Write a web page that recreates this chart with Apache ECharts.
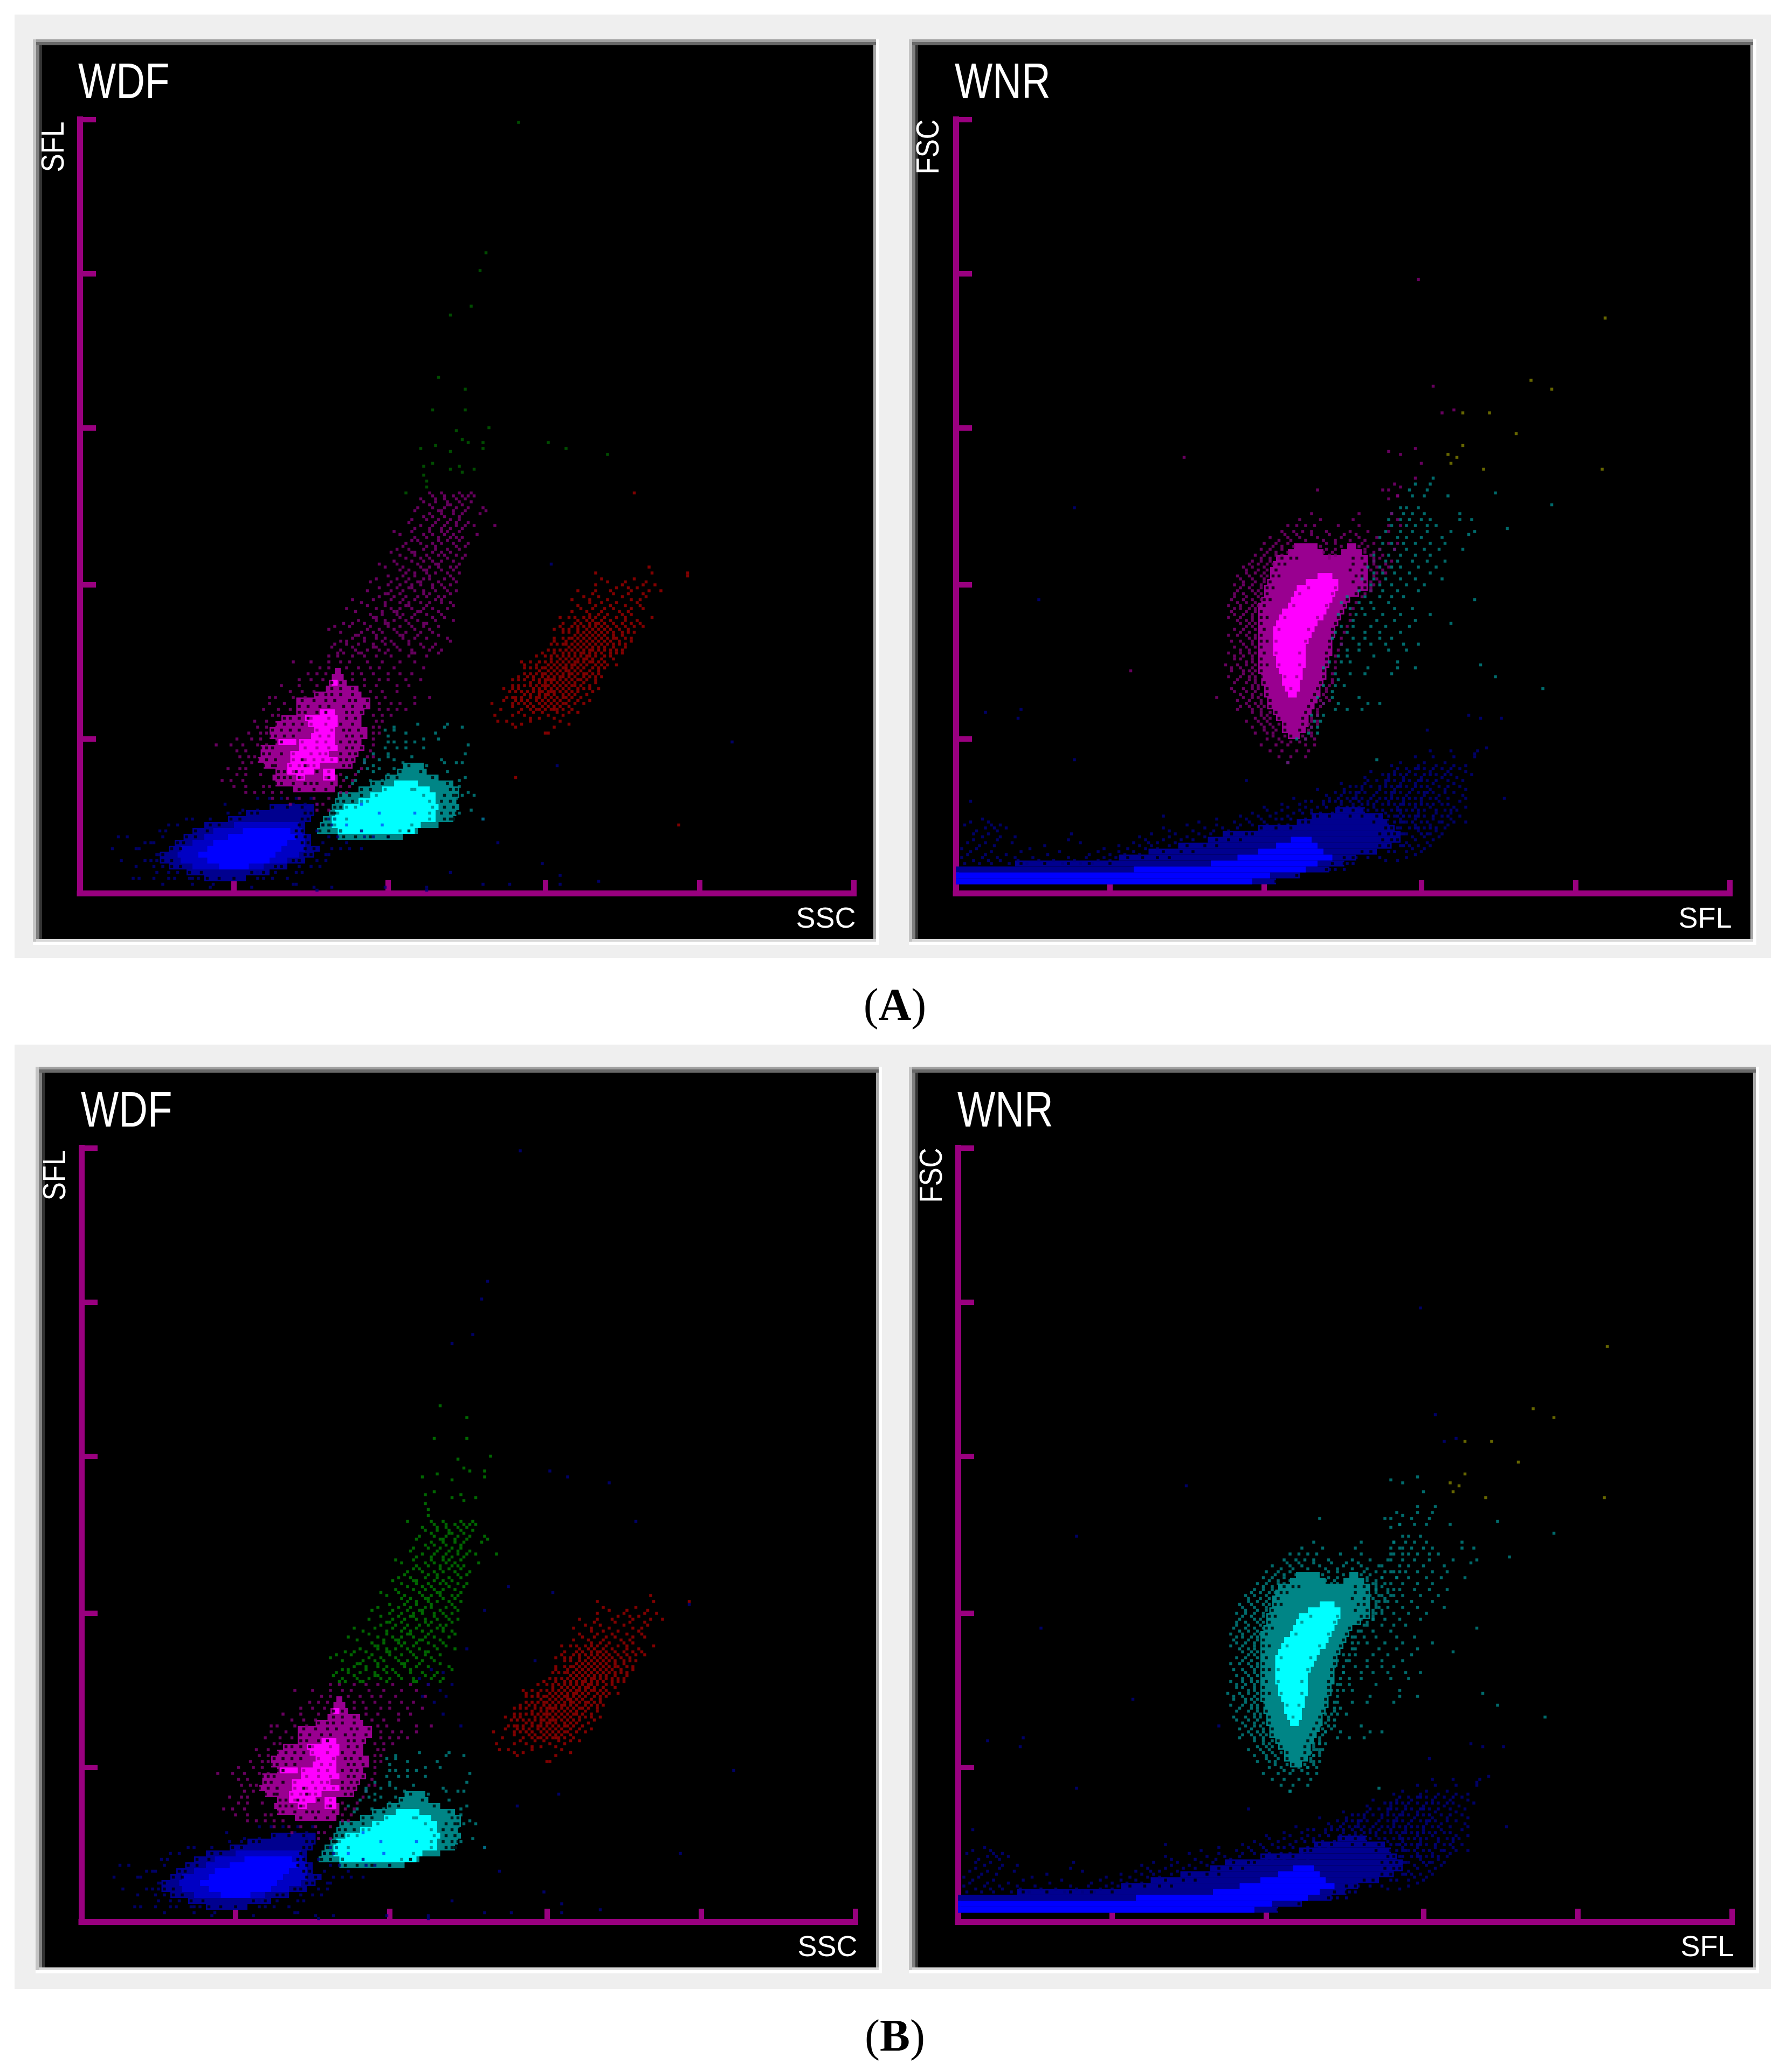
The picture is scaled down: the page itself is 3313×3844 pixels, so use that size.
<!DOCTYPE html>
<html><head><meta charset="utf-8">
<style>html,body{margin:0;padding:0;background:#fff}#c{width:3313px;height:3844px}</style>
<script src="https://cdn.jsdelivr.net/npm/echarts@6/dist/echarts.min.js"></script>
</head><body><div id="c"></div>
<script>
// Axis: instrument channels
const tickValues = [0, 52, 104, 157, 209, 261];

// Solid regions: [y, xStart, xEnd], each row covers two channels in y
const wdfBlueHalo = [[4,42,56],[6,36,64],[8,30,70],[10,27,76],[12,27,79],[14,30,81],[16,32,78],[18,35,78],[20,38,76],[22,42,76],[24,50,78],[26,56,79],[28,64,79]];
const wdfBlueMid = [[8,38,62],[10,34,70],[12,33,74],[14,34,76],[16,38,76],[18,42,76],[20,45,75],[22,52,74]];
const wdfBlueCore = [[8,47,57],[10,43,64],[12,40,66],[14,43,68],[16,45,70],[18,50,73],[20,55,71]];
const wdfCyanHalo = [[18,87,109],[20,80,114],[22,81,121],[24,82,126],[26,84,127],[28,85,128],[30,86,127],[32,87,128],[34,94,128],[36,98,126],[38,103,121],[40,107,117],[42,109,116]];
const wdfCyanCore = [[20,87,113],[22,85,115],[24,85,120],[26,86,120],[28,89,121],[30,94,120],[32,98,120],[34,102,118],[36,106,114]];
const wdfMagHalo = [[34,72,86],[36,66,87],[38,65,87],[40,66,86],[42,62,92],[44,60,93],[46,61,94],[48,61,96],[50,66,95],[52,64,97],[54,64,97],[56,66,95],[58,68,95],[60,73,96],[62,73,98],[64,73,98],[66,79,95],[68,83,94],[70,84,90],[72,85,89],[74,86,88]];
const wdfMagCore = [[38,73,76],[38,82,86],[40,70,79],[40,82,86],[42,70,81],[44,71,87],[46,71,84],[48,74,87],[50,67,73],[50,74,86],[52,78,86],[54,79,86],[56,77,87],[58,76,87],[60,81,86],[70,85,87]];
const wnrBlueHalo = [[3,0,108],[5,0,116],[7,0,126],[9,20,131],[11,55,135],[13,65,142],[15,75,147],[17,85,150],[19,90,150],[21,102,148],[23,115,146],[25,120,144],[27,128,138]];
const wnrBlueCore = [[3,0,100],[5,0,106],[7,60,118],[9,86,122],[11,95,127],[13,102,124],[15,108,122],[17,113,120]];
const wnrHalo = [[52,112,116],[54,110,118],[56,110,119],[58,108,119],[60,107,120],[62,105,121],[64,105,122],[66,104,123],[68,104,123],[70,103,124],[72,103,125],[74,102,125],[76,102,126],[78,102,126],[80,102,127],[82,102,127],[84,102,127],[86,102,128],[88,102,128],[90,102,129],[92,102,130],[94,102,131],[96,102,132],[98,103,133],[100,104,136],[102,104,139],[104,105,139],[106,106,139],[108,106,139],[110,107,139],[112,108,139],[114,112,124],[114,130,137],[116,114,122],[116,132,135]];
const wnrCore = [[66,112,115],[68,111,116],[70,110,116],[72,110,117],[74,109,117],[76,108,118],[78,108,118],[80,107,118],[82,107,118],[84,107,119],[86,107,120],[88,107,121],[90,108,122],[92,109,124],[94,110,125],[96,112,126],[98,113,127],[100,114,128],[102,115,129],[104,118,129],[106,122,127]];

// Gaps inside the solid regions: [y, x, x ...]
const wdfMagHaloGaps = [[35,67,70,74,79,83],[37,66,68,72,76,78,80,85],[39,67,69,71,74,84],[41,64,67,69,73,80,90],[43,62,65,66,76,89,91],[45,60,63,66,75,88,90,92],[47,62,64,68,88,91,93],[49,61,63,65,90,92,95],[51,66,68,88,91,93],[53,64,66,69,72,90,92,95],[55,65,68,71,74,89,91,94],[57,66,69,72,75,88,92],[59,69,71,74,77,90,93],[61,74,76,80,83,90,92,95],[63,74,77,81,84,89,92,96],[65,75,79,83,86,91,93,97],[67,80,83,85,88,92],[69,85,88,92],[71,85,88]];
const wdfMagCoreGaps = [[39,75,83],[41,72,75,84],[43,71,74,77,79],[45,72,76,79,82,85],[47,72,78,81,83],[49,76,80,84],[51,75,80,83],[53,81,84],[55,80,85],[57,78,83],[59,78,84]];
const wdfCyanHaloGaps = [[19,89,93,98,104],[21,81,84,88,111],[23,82,84,122,124],[25,83,123,125,126],[27,85,86,122,125,127],[29,86,88,123,126],[31,87,89,92,122,125],[33,88,91,95,123,126,127],[35,95,98,125,127],[37,99,102,124],[39,104,107,119],[41,108,115],[43,111]];
const wdfCyanCoreGaps = [[21,88,108],[23,86,112],[25,86,90,118],[27,87,118],[29,90,93,119],[31,95,97,118],[33,100,116],[35,103,112,113]];
const wdfCyanBlueCells = [[101,27],[113,27],[90,23],[102,23],[95,30]];
const wdfBlueGaps = [[5,43,47,52],[7,37,41,58,62],[9,31,34,66,68],[11,28,31,72,74],[13,28,76,78],[15,31,34,76,79],[17,33,35,75,77],[19,36,39,73,76],[21,39,43,73,75],[23,44,47,74],[25,51,54,75,77],[27,58,60,76,78],[29,65,70,75]];
const wnrHaloGaps = [[53,113],[55,111,116],[57,111,117],[59,109,117],[61,108,118],[63,106,119],[65,106,120],[67,105,121],[69,105,122],[71,104,123],[73,103,124],[75,103,124],[77,103,105,125],[79,103,125],[81,104,125],[83,103,126],[85,103,105,126],[87,103,127],[89,104,127],[91,103,128],[93,103,105,129],[95,103,130],[97,104,131],[99,104,106,132],[101,105,135,137],[103,105,107,136,138],[105,106,134,138],[107,107,109,135,137],[109,108,133,137],[111,109,111,134,138],[113,110,113,115,134,137]];
const wnrCoreGaps = [[69,113],[73,111,115],[77,109,116],[81,108,116],[85,108,118],[89,109,119],[93,111,122],[97,114,125],[101,116,127],[103,119,128]];
const wnrBlueGaps = [[4,108],[6,115,120,123],[8,125,129,130],[10,127,131],[12,131,134],[14,137,140,143],[16,143,146,148],[18,144,147,149],[20,143,146,148],[22,145,147],[24,141,146],[26,133,137,142,145],[28,130,134,138],[10,22,30,38,45,52],[12,58,63,68,72],[14,70,76,80],[16,78,84,88],[18,88,92,96],[20,93,98,100],[22,103,108,113],[24,117,119],[26,122,126]];

// Speckle: [y, x, x, x ...]
const wdfBlueFringe = [[2,44,58,79,103,117],[3,28,38,45,72,73],[5,18,20,25,30,32,37,38,40,60,62,65,70],[7,26,30,33,60,66,73,75],[9,19,25,28,74,78,81],[11,14,22,24,26,80,83],[13,26,27,83,84],[15,11,19,20,85,88,91,95],[17,22,24,25,82,90],[19,13,16,28,84,87,96,99,104],[21,27,29,80,88,95],[23,30,33,82,85],[25,36,38,44,84,86],[27,50,54],[28,55,60,76],[30,49,72,76,80],[32,60,64,68,73,78]];
const wdfMagFringe = [[28,80,84],[30,71,80,82],[32,65,70,74,79,84],[34,56,59,62,65,68,88,90],[36,52,56,62,64,88,91],[38,48,51,55,89,92],[40,53,56,61,88,93],[42,50,54,56,95],[44,55,58,96],[46,54,57,59,97,99],[48,53,56,98],[50,46,51,55,60,63,99],[52,53,58,61,99],[54,57,61,63,99,101],[56,60,63,99,101],[58,59,63,100,102],[60,65,67,99,102,105],[62,62,67,71,101,104,107,110],[64,64,69,101,105,108,113],[66,64,66,72,76,100,103,113,118],[68,71,75,79,98,102,107],[70,68,74,80,96,100,107,111],[72,74,78,82,92,96,101,104,110,115],[74,77,80,83,92,95,99,104,108,112],[76,81,84,90,94,98,101,106,116],[78,72,78,84,88,91,97,102,108,113],[80,84,87,92,96,100,105,111,117]];
const wdfPlumeMid = [[82,88,93,97,101,104,108,112,118,122],[84,86,90,94,99,103,106,111,115,120],[86,92,96,100,103,109,113,117,124],[88,88,95,99,102,107,110,115,119],[90,86,91,98,104,108,112,116,121],[92,94,100,103,106,110,114,120,126],[94,98,102,107,109,113,117,122],[96,90,100,105,108,112,116,119,124],[98,95,103,108,111,115,118,122,125],[100,101,106,110,114,117,121,123],[102,97,105,109,113,116,120,124,127],[104,104,108,112,115,119,122,125],[106,100,107,111,116,118,123,126],[108,110,113,117,120,124,128],[110,103,109,115,118,121,125,127],[112,106,112,116,119,122,126],[114,108,113,117,121,123,127,130],[116,107,111,116,120,124,128],[118,110,115,119,122,126,131],[120,113,117,121,125,127,129],[122,106,112,118,122,124,128],[124,115,119,123,127,130,133,140],[126,112,117,121,125,128],[128,118,122,126,129,135],[130,114,119,123,127,131,136],[132,116,120,124,128,132],[134,119,123,126,129,131,133]];
const wdfPlumeClumps = [[81,87,89,94,95,103,112,113,121],[83,85,92,99,100,107,116,119],[85,88,90,96,102,105,111,125],[87,93,94,100,108,109,114,121],[89,84,97,101,106,113,118],[91,89,92,96,103,104,111,116,117],[93,99,100,108,112,119,123],[95,93,102,106,107,114,115,121],[97,97,103,110,111,117,126],[99,92,99,105,109,113,120,122],[101,103,104,108,116,118,125],[103,101,107,111,112,119,123],[105,98,105,110,114,115,121,127],[107,104,109,113,118,125],[109,108,111,116,117,122,126],[111,101,107,114,120,121,128],[113,110,115,118,124,129],[115,105,112,113,119,122,125],[117,109,117,120,127,130],[119,112,114,121,124,128],[121,108,116,119,123,126,134],[123,113,118,122,125,129],[125,111,120,124,127,131],[127,116,119,123,128],[129,113,121,122,126,130,137],[131,118,124,125,129],[133,115,120,123,127,130],[135,118,122,128,132]];
const wdfRed = [[54,157,158],[56,147,160],[57,146,149,165],[58,141,144,152,162],[59,152,155,160],[60,140,146,150,158,163],[61,148,153,156,161,165,168],[62,142,149,152,154,157,159,163,166],[63,146,151,153,156,158,160,162,165],[64,139,150,152,155,157,159,161,164,167,170],[65,147,151,154,156,158,160,162,165,168],[66,144,149,152,154,157,159,161,163,166,169],[67,150,152,155,157,158,160,163,165,167,171],[68,145,151,153,156,158,160,162,164,166,168,173],[69,148,153,155,157,159,161,163,165,168,170],[70,150,154,156,158,160,162,164,166,169,172],[71,152,155,157,159,161,163,165,167,170,174],[72,146,155,157,158,160,162,164,166,168,171],[73,153,156,158,160,162,163,165,167,170,172,176],[74,156,157,159,161,163,165,166,168,171,173],[75,155,158,160,162,164,165,167,169,172,175],[76,152,157,159,161,163,164,166,168,170,173],[77,158,160,162,164,166,167,169,171,174,178],[78,149,157,161,163,165,167,168,170,172,175],[79,159,162,164,166,168,170,171,173,176,180],[80,161,163,165,167,169,171,172,174,177],[81,163,165,167,169,170,172,174,176,179,183],[82,160,164,166,168,170,172,173,175,177,181],[83,165,167,169,171,173,175,177,180,184],[84,163,166,168,170,172,174,176,178,182],[85,167,169,171,173,175,177,179,186],[86,165,168,170,172,174,176,178,181,184],[87,167,169,171,173,175,177,180,183],[88,170,172,174,176,178,180,187],[89,163,168,171,173,175,177,179,182,185],[90,170,172,174,176,178,181,190],[91,169,172,174,175,177,180,183],[92,168,171,173,176,179,184,188],[93,165,170,174,177,181,193],[94,172,175,178,183,186],[96,169,173,177,180,186,190],[98,172,176,181,188],[100,170,175,183,191],[102,168,174,179,186,192,196],[103,181,185,188],[104,174,183,190,194],[106,176,187],[108,174,193,205],[110,192]];
const wdfRedWide = [[62,155,160,161],[64,146,148,163],[66,146,147,155,164],[68,147,149,155,159],[70,146,148,152,157,167],[72,148,150,153,159,169,174],[74,150,152,154,170,175],[76,150,154,156,175,177],[78,152,155,159,173,177],[80,154,157,159,179],[82,158,162,179,183],[84,159,161,164,180,184],[86,160,163,166,180,186],[88,163,165,168,183,185],[90,162,166,168,184,187],[65,143,149,172],[69,143,146,172,175],[73,148,151,174],[77,150,154,176,181],[81,156,160,181],[85,160,164,182],[89,160,165],[91,163,167,186,189],[93,162,167,172,184],[95,166,171,176,182,185],[97,168,174,179,184,189],[99,166,172,178,186,189],[101,173,180,185,190],[105,178,184,191]];
const wnrFringe = [[44,112],[46,109,113,118],[48,106,110,115,119],[50,103,108,112,118,121],[52,105,109,118,121],[54,101,105,107,120],[56,100,104,107,120],[58,98,102,105,120,122],[60,103,105,122],[62,95,100,103,122],[64,98,101,103,124],[66,97,100,102,125],[68,94,98,101,125],[70,100,102,126],[72,95,99,101,127],[74,97,100,127],[76,93,96,100,128],[78,98,100,128],[80,94,97,100,128],[82,96,99,129],[84,97,100,130],[86,99,101,130],[88,96,99,131],[90,98,100,132],[92,95,98,100,133],[94,94,97,100,133],[96,94,96,99,101,134],[98,95,98,101,135],[100,94,98,102,137],[102,95,100,102,140],[104,94,97,100,103,141],[106,96,100,104,142],[108,98,101,104,142,145],[110,97,100,104,142,146],[112,100,103,106,141,147],[114,101,104,108,110,126,128,140,144],[116,103,106,110,125,128,138,143,148],[118,104,108,112,125,128,137,141,146,149],[120,106,112,116,122,130,136,142],[122,110,114,117,120,125,133,139,146],[124,112,115,118,121,129,136,146,150],[126,116,123,134,149],[128,120,136,147],[134,149],[136,144,146],[138,148]];
const wnrFringeOdd = [[51,110,113,116],[53,107,111,117,120],[55,104,108,119],[57,103,106,109,119,122],[59,101,104,106,120],[61,100,103,106,122],[63,96,99,102,104,123],[65,95,99,103,123,126],[67,96,100,103,124],[69,93,97,100,102,125],[71,94,98,101,127],[73,92,96,99,101],[75,93,97,99,101],[77,91,95,98,101],[79,94,96,100],[81,92,96,99,101],[83,94,98,101],[85,93,96,100],[87,92,95,98,101],[89,94,97,101],[91,96,99,101],[93,92,96,100],[95,93,98,101],[97,92,96,100,102],[99,93,97,100,103],[101,94,97,101,103,138],[103,96,99,103,140],[105,97,101,104,140,143],[107,95,99,103,105,141],[109,98,102,105,140,144],[111,99,102,105,107,141,145],[113,103,106,109,126,141,143],[115,105,108,112,124,127,138,141],[117,107,110,114,123,130,136,139],[119,109,113,118,124,128,133,138],[121,111,115,120,126,131,135]];
const wnrTealScatter = [[52,115,118],[54,119,122],[56,120,122],[58,121,123],[60,120,122,124],[62,128,132,137],[64,124,129,139,143],[66,122,127,136],[68,127],[70,124,128,131],[72,129],[74,128,133,138,147],[76,124,139,149,155],[78,126,130,133,149],[80,129,132,141],[82,132,136,146,152],[84,130,136,140,145,151,156],[86,127,134,138,143,147],[88,128,132,138,143,150],[90,130,134,140,145,153],[92,134,142,148,155],[94,129,135,138,144,150,160],[96,133,137,141,148,154],[98,130,136,140,146],[100,132,138,143,147,151],[102,136,140,144,149,156],[104,140,143,147,152,158],[106,137,141,145,150,155,164],[108,141,144,148,153,160],[110,139,143,147,150,156,162],[112,141,145,149,154,159,165],[114,141,146,150,155,160],[116,143,148,152,158,163],[118,144,147,151,155,160,165],[120,143,149,152,157,164],[122,145,150,154,159,167],[124,147,152,155,159,162],[126,146,150,153,157,160,170,174],[128,147,151,154,158,170],[130,150,152,156],[134,154,158,166],[136,153,159],[138,155,160],[140,161]];
const wnrBlueFringe = [[10,3,8,12,18,24,30,36,42,46],[11,6,11,15,21,28,33,40,48,52,145,149],[12,2,9,14,20,26,38,44,50,54,152],[13,4,10,17,31,45,52,57,62,155],[14,5,12,22,35,48,55,60,152,157],[15,2,7,25,50,58,64,68,154,158],[16,8,13,30,55,62,66,72,153,156,160],[17,4,10,19,42,60,68,74,152,159],[18,6,14,38,64,70,76,80,155,161],[19,9,15,20,62,72,78,84,154,158,163],[20,6,11,66,74,82,86,152,160,164],[21,7,14,72,80,87,92,156,162],[22,10,13,17,70,84,90,95,153,158,165],[23,3,12,15,78,88,96,100,155,160,166],[24,5,11,82,94,99,104,152,157,163,168],[25,9,88,98,103,108,150,155,161,167],[26,96,102,106,112,148,153,158,164,170],[27,100,108,114,145,150,156,162,167],[28,105,110,116,120,142,147,152,158,165,169],[29,104,112,118,122,136,141,149,155,160,168,172],[30,110,116,124,130,134,144,148,153,159,164],[31,118,124,128,133,139,146,151,157,163,170],[32,114,126,132,137,143,149,155,160,166,172],[33,125,130,135,141,147,152,158,163,171],[34,128,133,138,145,150,156,161,168],[35,122,131,137,143,148,154,160,165,172],[36,135,140,147,152,157,163,170],[37,130,138,145,150,155,161,168],[38,142,148,153,159,166,171],[39,138,146,151,157,164,169],[40,144,150,155,162,167,174],[41,140,148,153,160,166,172],[42,152,158,164,170],[43,147,156,162,168,172],[44,150,158,165],[46,155,161,168,175],[48,160,167,176]];
const wnrBlueGrain = [[20,150,151,157,159],[22,149,150,155,156,160,162],[24,148,150,151,154,159,164],[26,146,149,151,155,156,161,166],[28,139,144,149,150,154,156,162,167],[30,137,139,141,146,150,151,155,157,161,166],[32,129,134,135,140,145,147,151,153,157,162],[34,131,135,136,142,147,148,153,158,159,165],[36,133,137,143,145,149,150,155,159,166],[38,139,145,146,151,156,157,162],[40,146,148,152,158,160,165],[42,149,155,156,161,167],[21,104,106,110,114,118],[23,105,109,112,116],[25,110,113,118,122,125],[27,117,120,123,127],[29,125,129,132,134],[31,120,126,130,136,142],[10,128,132,134],[8,126,128,131],[12,135,139,143],[14,141,146,148],[16,146,150,151]];

// Isolated points: [x, y]
const wdfTealScatter = [[106,56],[103,55],[106,55],[104,53],[104,51],[106,51],[110,51],[113,51],[116,52],[121,52],[120,54],[110,54],[114,57],[123,56],[124,57],[129,56],[131,50],[130,47],[103,49],[107,49],[110,49],[116,49],[104,47],[99,47],[112,46],[96,45],[96,44],[101,45],[104,46],[106,45],[109,44],[112,43],[122,45],[123,44],[127,44],[129,44],[99,43],[97,42],[101,42],[99,41],[94,41],[106,42],[117,43],[124,41],[110,41],[104,40],[102,38],[98,38],[90,39],[93,38],[92,37],[96,35],[130,39],[128,38],[128,36],[131,34],[133,33],[129,33],[127,32],[128,27],[132,28],[126,25],[136,25],[123,26]];
const wdfGreenHigh = [[110,135],[117,137],[117,139],[116,141],[116,144],[119,145],[125,143],[128,144],[133,143],[129,142],[115,150],[120,151],[125,149],[129,153],[131,152],[136,152],[136,150],[127,156],[138,157],[119,163],[130,163],[130,170],[121,174]];
const wdfTopOutliers = [[148,260],[137,216],[135,210],[132,198],[125,195],[158,152],[164,150],[178,148]];
const wdfUpperRed = [[187,135]];
const wdfRedOutliers = [[147,39],[202,23],[205,107]];
const wdfBlueOutliers = [[141,17],[156,10],[162,6],[162,3],[175,4],[136,3],[145,3],[125,7],[117,1],[80,1],[85,2],[159,111],[161,43],[220,51],[136,25]];
const wdfBlueNearPlume = [[114,82],[118,85],[122,84],[117,80],[121,78],[125,80],[115,76],[119,74],[123,76],[128,66],[122,70],[130,92],[136,105],[153,88],[144,113]];
const wnrUpperScatter = [[146,149],[150,148],[155,150],[157,145],[155,140],[150,137],[149,134],[146,133],[122,136]];
const wnrFarTeal = [[182,135],[201,131],[186,123],[175,99],[167,91],[177,77],[182,73],[198,69],[142,45],[112,44],[173,121],[175,122],[171,116]];
const wnrYellow = [[219,194],[194,173],[201,170],[171,162],[180,162],[189,155],[171,151],[166,148],[169,147],[167,145],[178,143],[218,143]];
const wnrOutliers = [[156,207],[161,171],[164,162],[168,163],[77,147],[59,75],[88,66]];
const wnrBlueOutliers = [[40,130],[28,99],[10,61],[22,62],[21,59],[40,45],[173,60],[177,59],[184,59],[185,32],[172,24],[159,55],[179,49],[175,47],[98,38],[70,26],[5,31],[39,20],[65,17]];

// Colours
const AXIS='#99007f', BLUE='#0000ff', MBLUE='#0000c4', DBLUE='#00008f', SBLUE='#000080', CYAN='#00ffff', TEAL='#008586', MAG='#ff00ff', DMAG='#990090', SMAG='#7f0075', RED='#a00000', GREEN='#007f00', SGREEN='#005f00', OLIVE='#7f7f00', BLACK='#000000', SPECK='#0050ff';

const ROW=2, CELL=5.5, FULL=261;
const cells = rows => rows.flatMap(r => r.slice(1).map(x => [x, r[0]]));
function spanItem(p, api){
  const y=api.value(0), a=api.coord([api.value(1),y]), b=api.coord([api.value(2),y+ROW]);
  return {type:'rect',shape:{x:a[0],y:b[1],width:b[0]-a[0],height:a[1]-b[1]},style:{fill:api.visual('color')}};
}
const span = (i,data,color)=>({type:'custom',xAxisIndex:i,yAxisIndex:i,data,renderItem:spanItem,itemStyle:{color},silent:true,clip:false,z:2});
const dots = (i,data,color)=>({type:'scatter',xAxisIndex:i,yAxisIndex:i,data,symbol:'rect',symbolSize:CELL,itemStyle:{color},silent:true,z:2});

const panels=[
 {name:'WDF',yn:'SFL',xn:'SSC',black:[78,84,1620,1742],ox:148,oy:1657,tx:145,ty:156,lx:101},
 {name:'WNR',yn:'FSC',xn:'SFL',black:[1703,84,3247,1742],ox:1773,oy:1657,tx:1771,ty:156,lx:1724},
 {name:'WDF',yn:'SFL',xn:'SSC',black:[83,1990,1625,3650],ox:151,oy:3565,tx:150,ty:2064,lx:104},
 {name:'WNR',yn:'FSC',xn:'SFL',black:[1703,1990,3252,3650],ox:1777,oy:3565,tx:1776,ty:2064,lx:1730}
];
const series=[];
function wdf(i,isB){
  series.push(
    dots(i,cells(wdfBlueFringe),SBLUE),dots(i,wdfBlueOutliers,SBLUE),
    dots(i,cells(wdfMagFringe),SMAG),
    dots(i,cells(wdfPlumeMid),isB?GREEN:SMAG),
    dots(i,cells(wdfPlumeClumps),isB?GREEN:SMAG),
    dots(i,wdfGreenHigh,isB?GREEN:SGREEN),
    dots(i,wdfTopOutliers,isB?SBLUE:SGREEN),
    dots(i,wdfUpperRed,isB?SBLUE:RED),
    dots(i,wdfRedOutliers,isB?SBLUE:RED),
    dots(i,cells(wdfRed),RED),dots(i,cells(wdfRedWide),RED),
    dots(i,wdfTealScatter,TEAL),
    span(i,wdfBlueHalo,DBLUE),span(i,wdfBlueMid,MBLUE),span(i,wdfBlueCore,BLUE),dots(i,cells(wdfBlueGaps),BLACK),
    span(i,wdfMagHalo,DMAG),dots(i,cells(wdfMagHaloGaps),BLACK),span(i,wdfMagCore,MAG),dots(i,cells(wdfMagCoreGaps),DMAG),
    span(i,wdfCyanHalo,TEAL),dots(i,cells(wdfCyanHaloGaps),BLACK),span(i,wdfCyanCore,CYAN),dots(i,cells(wdfCyanCoreGaps),TEAL),dots(i,wdfCyanBlueCells,SPECK));
  if(isB) series.push(dots(i,wdfBlueNearPlume,SBLUE));
}
function wnr(i,isB){
  const halo=isB?TEAL:DMAG, core=isB?CYAN:MAG, fringe=isB?TEAL:SMAG;
  series.push(
    dots(i,cells(wnrBlueFringe),SBLUE),dots(i,cells(wnrBlueGrain),DBLUE),dots(i,wnrBlueOutliers,SBLUE),
    span(i,wnrBlueHalo,DBLUE),span(i,wnrBlueCore,BLUE),dots(i,cells(wnrBlueGaps),BLACK),
    dots(i,cells(wnrTealScatter),TEAL),dots(i,wnrFarTeal,TEAL),
    dots(i,cells(wnrFringe),fringe),dots(i,cells(wnrFringeOdd),fringe),dots(i,wnrUpperScatter,fringe),
    dots(i,wnrOutliers,isB?SBLUE:SMAG),dots(i,wnrYellow,OLIVE),
    span(i,wnrHalo,halo),dots(i,cells(wnrHaloGaps),BLACK),span(i,wnrCore,core),dots(i,cells(wnrCoreGaps),halo));
}
wdf(0,false);wnr(1,false);wdf(2,true);wnr(3,true);

const side=FULL*CELL;
const grid=panels.map(p=>({left:p.ox,top:p.oy-side,width:side,height:side,show:false}));
const axisBase=(len,i)=>({type:'value',min:0,max:FULL,gridIndex:i,splitLine:{show:false},axisLabel:{show:false},
  axisLine:{show:true,onZero:false,lineStyle:{color:AXIS,width:11,cap:'square'}},
  axisTick:{show:true,inside:true,length:len,customValues:tickValues,lineStyle:{color:AXIS,width:10}}});
const xAxis=panels.map((p,i)=>axisBase(24,i));
const yAxis=panels.map((p,i)=>axisBase(30,i));

const rect=(x0,y0,x1,y1,fill)=>({type:'rect',z:-10,silent:true,shape:{x:x0,y:y0,width:x1-x0,height:y1-y0},style:{fill}});
const els=[rect(27,27,3285,1777,'#efefef'),rect(27,1938,3285,3690,'#efefef')];
const SANS='"Liberation Sans"';
panels.forEach(p=>{
  const [l,t,r,b]=p.black;
  els.push(rect(l-17,t-11,r+11,b+11,'#ffffff'));
  els.push(rect(l-17,t-11,r+5,b+5,'#d8d8d8'));
  els.push(rect(l-17,t-11,r+5,t,'#a0a0a0'));
  els.push(rect(l-17,t-11,l-11,b+5,'#c4c4c4'));
  els.push(rect(l-11,t-6,l-5,b,'#808080'));
  els.push(rect(l-11,t-6,r+5,t,'#696969'));
  els.push(rect(r,t,r+5,b,'#a8a8a8'));
  els.push(rect(l-5,t,l,b,'#333333'));
  els.push(rect(l,t,r,b,'#000000'));
  els.push({type:'text',z:50,silent:true,x:p.tx,y:p.ty,scaleX:0.8,style:{text:p.name,font:'93px '+SANS,fill:'#fff',align:'left',verticalAlign:'middle'}});
  els.push({type:'text',z:50,silent:true,x:p.lx,y:p.oy-side+51,rotation:Math.PI/2,scaleX:0.85,style:{text:p.yn,font:'60px '+SANS,fill:'#fff',align:'center',verticalAlign:'middle'}});
  els.push({type:'text',z:50,silent:true,x:p.ox+side+4,y:p.oy+49,style:{text:p.xn,font:'54px '+SANS,fill:'#fff',align:'right',verticalAlign:'middle'}});
});
[['A',1660,1870],['B',1660,3783]].forEach(([t,x,y])=>{
  els.push({type:'text',z:50,silent:true,x,y,style:{text:'{n|(}{b|'+t+'}{n|)}',align:'center',verticalAlign:'middle',rich:{
    n:{fill:'#000',fontSize:84,fontFamily:'Liberation Serif'},
    b:{fill:'#000',fontSize:84,fontWeight:'bold',fontFamily:'Liberation Serif'}}}});
});

const chart=echarts.init(document.getElementById('c'),null,{renderer:'canvas',width:3313,height:3844});
chart.setOption({animation:false,backgroundColor:'#ffffff',grid,xAxis,yAxis,series,graphic:{elements:els}});
</script></body></html>
